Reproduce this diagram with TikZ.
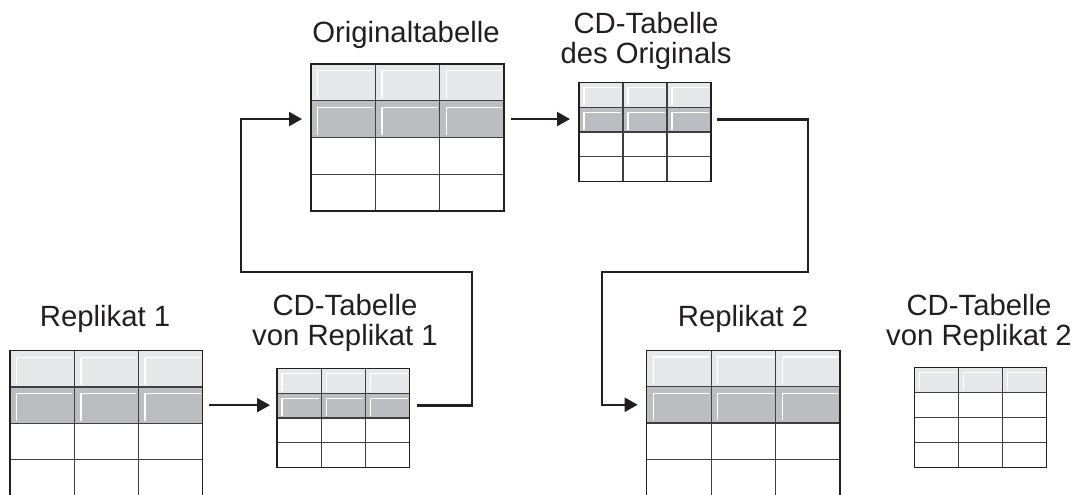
\documentclass[tikz,border=0pt]{standalone}
\usepackage{fontspec}
\newfontfamily\labfont{Liberation Sans}
\usetikzlibrary{arrows.meta}
\definecolor{ink}{HTML}{231F20}
\definecolor{rowA}{HTML}{E6E7E8}
\definecolor{rowB}{HTML}{BCBDC0}
\definecolor{gridc}{HTML}{3F3F41}
\tikzset{
  lab/.style={font=\labfont\fontsize{29.3}{30}\selectfont, text=ink, inner sep=0pt, align=center, anchor=base},
  outerline/.style={draw=ink, line width=1.5pt},
  innerline/.style={draw=gridc, line width=1.2pt},
  bevel/.style={draw=white, line width=1.3pt},
  conn/.style={draw=ink, line width=2.2pt, -{Triangle[length=13pt,width=14pt]}},
  tblnode/.style={inner sep=0pt, anchor=north west},
}
% #1 name, #2 x0, #3 y0, #4 cell width, #5 row height, #6 shaded rows, #7 bevel inset
\newcommand{\dbtab}[7]{%
  \pgfmathsetmacro\dbtw{3*#4}%
  \pgfmathsetmacro\dbth{4*#5}%
  \fill[rowA] (#2,#3) rectangle ({#2+3*#4},{#3+#5});
  \ifnum#6>1 \fill[rowB] (#2,{#3+#5}) rectangle ({#2+3*#4},{#3+2*#5});\fi
  \foreach \r in {1,...,#6}{\foreach \c in {0,1,2}{%
    \draw[bevel] ({#2+\c*#4+#7},{#3+\r*#5-2.5}) |- ({#2+(\c+1)*#4-2},{#3+(\r-1)*#5+#7});}}
  \foreach \c in {1,2}{\draw[innerline] ({#2+\c*#4},#3) -- ({#2+\c*#4},{#3+4*#5});}
  \foreach \r in {1,2,3}{\draw[innerline] (#2,{#3+\r*#5}) -- ({#2+3*#4},{#3+\r*#5});}
  \draw[outerline] (#2,#3) rectangle ({#2+3*#4},{#3+4*#5});
  \node[tblnode, minimum width=\dbtw pt, minimum height=\dbth pt] (#1) at (#2,#3) {};
  \coordinate (#1-l) at (#2,{#3+1.5*#5});
  \coordinate (#1-r) at ({#2+3*#4},{#3+1.5*#5});
}
\begin{document}
\begin{tikzpicture}[x=1pt,y=-1pt]
\useasboundingbox (0,0) rectangle (1079,495);
\clip (0,0) rectangle (1079,495);
% tables
\dbtab{orig}{311}{64}{64.4}{36.7}{2}{6.7}
\dbtab{cdo}{579}{82.3}{44}{24.85}{2}{5}
\dbtab{rep1}{10}{350.7}{64.2}{36.3}{2}{6.7}
\dbtab{cdr1}{277}{368.3}{44.2}{24.85}{2}{5}
\dbtab{rep2}{646.7}{350.3}{64.4}{36.3}{2}{6.7}
\dbtab{cdr2}{914.3}{367.3}{44.1}{25}{1}{5}
% labels (anchor=base is the last line's baseline)
\node[lab] (l-orig) at (406,42.7) {Originaltabelle};
\node[lab] (l-cdo) at (646,63.3) {CD-Tabelle\\des Originals};
\node[lab] (l-rep1) at (105,326.7) {Replikat 1};
\node[lab] (l-cdr1) at (345,345.7) {CD-Tabelle\\von Replikat 1};
\node[lab] (l-rep2) at (743,326.7) {Replikat 2};
\node[lab] (l-cdr2) at (979,345.7) {CD-Tabelle\\von Replikat 2};
% bends
\coordinate (k1) at (472.3,271.7);
\coordinate (k2) at (241,271.7);
\coordinate (k3) at (808.3,271.7);
\coordinate (k4) at (602.3,271.7);
% connectors
\draw[conn] ([xshift=6.5pt]rep1-r) -- ([xshift=-7pt]rep1-r -| cdr1-l);
\draw[conn] ([xshift=7pt]cdr1-r) -| (k1) -- (k2) |- ([xshift=-9pt]orig-l);
\draw[conn] ([xshift=7pt]orig-r) -- ([xshift=-9pt]orig-r -| cdo-l);
\draw[conn] ([xshift=6pt]cdo-r) -| (k3) -- (k4) |- ([xshift=-9pt]rep2-l);
\end{tikzpicture}
\end{document}
